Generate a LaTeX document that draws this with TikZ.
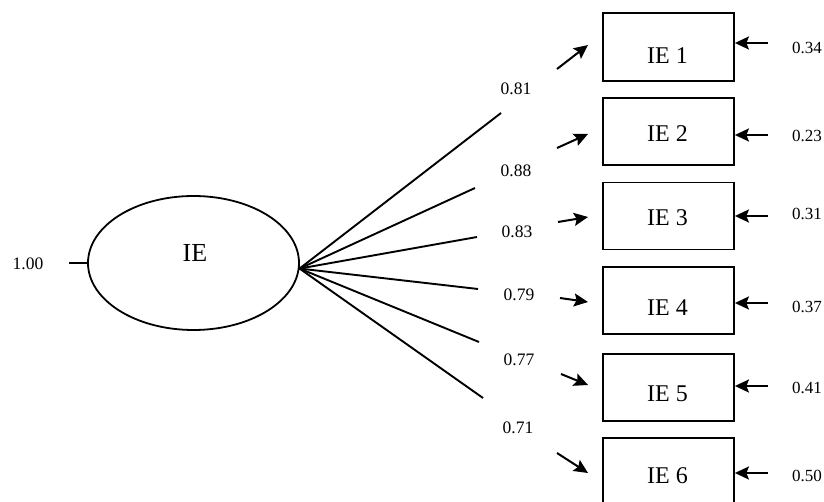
\documentclass[tikz,border=0pt]{standalone}
\usepackage{fontspec}
\setmainfont{Liberation Serif}
\usetikzlibrary{shapes.geometric,arrows.meta}

\begin{document}
\begin{tikzpicture}[x=1pt,y=-1pt,
  line width=1.8pt,
  latent/.style={draw,ellipse,minimum width=211pt,minimum height=134pt,inner sep=0pt},
  indicator/.style={draw,rectangle,minimum width=131pt,minimum height=67pt,inner sep=0pt},
  bigtext/.style={inner sep=0pt,font=\fontsize{26}{30}\selectfont},
  boxtext/.style={inner sep=0pt,font=\fontsize{24}{28}\selectfont},
  loadtext/.style={inner sep=0pt,font=\fontsize{17.5}{20}\selectfont},
  errtext/.style={inner sep=0pt,font=\fontsize{17}{19}\selectfont},
  loading/.style={line width=1.9pt},
  pointer/.style={line width=2pt,-{Stealth[length=14pt,width=13pt,inset=2.5pt]}},
]
\useasboundingbox (0,0) rectangle (824,502);
\clip (0,0) rectangle (824,502);

% latent factor
\node[latent] (ie) at (193.5,263) {};
\node[bigtext] (ielabel) at (195,253) {IE};
\node[loadtext] (var) at (28,264) {1.00};
\coordinate (vartick) at (69,263);
\draw (vartick) -- (ie.west);

% indicator boxes
\node[indicator,minimum height=68pt] (b1) at (668.5,47) {};
\node[indicator] (b2) at (668.5,131.5) {};
\node[indicator] (b3) at (668.5,216) {};
\node[indicator] (b4) at (668.5,300.5) {};
\node[indicator] (b5) at (668.5,387.5) {};
\node[indicator] (b6) at (668.5,471.5) {};

\node[boxtext] (t1) at (667.5,56) {IE 1};
\node[boxtext] (t2) at (667.5,134) {IE 2};
\node[boxtext] (t3) at (667.5,218) {IE 3};
\node[boxtext] (t4) at (667.5,308) {IE 4};
\node[boxtext] (t5) at (667.5,394) {IE 5};
\node[boxtext] (t6) at (667.5,476) {IE 6};

% loading lines fanning out of the factor
\coordinate (apex) at (ie.-3);
\coordinate (l1) at (501,113);
\coordinate (l2) at (475,188);
\coordinate (l3) at (477,237);
\coordinate (l4) at (478,289);
\coordinate (l5) at (479,342);
\coordinate (l6) at (483,398);
\foreach \i in {1,...,6} \draw[loading] (apex) -- (l\i);

% loading values
\node[loadtext] (v1) at (516,89) {0.81};
\node[loadtext] (v2) at (516,171) {0.88};
\node[loadtext] (v3) at (517,232) {0.83};
\node[loadtext] (v4) at (519,295) {0.79};
\node[loadtext] (v5) at (519,360) {0.77};
\node[loadtext] (v6) at (518,428) {0.71};

% short arrows pointing at the boxes
\coordinate (p1s) at (557,69);  \coordinate (p1e) at (588,45);
\coordinate (p2s) at (557,148); \coordinate (p2e) at (588,134);
\coordinate (p3s) at (558,222); \coordinate (p3e) at (588,217);
\coordinate (p4s) at (560,298); \coordinate (p4e) at (588,302);
\coordinate (p5s) at (561,374); \coordinate (p5e) at (588,385);
\coordinate (p6s) at (557,453); \coordinate (p6e) at (588,473);
\foreach \i in {1,...,6} \draw[pointer] (p\i s) -- (p\i e);

% error terms
\coordinate (e1) at (768,43);
\coordinate (e2) at (768,135);
\coordinate (e3) at (768,216);
\coordinate (e4) at (768,303);
\coordinate (e5) at (768,386);
\coordinate (e6) at (768,473);
\foreach \i in {1,...,6} \draw[pointer] (e\i) -- (e\i -| b\i.east);

\node[errtext] (r1) at (807,48) {0.34};
\node[errtext] (r2) at (807,136) {0.23};
\node[errtext] (r3) at (807,214) {0.31};
\node[errtext] (r4) at (807,307) {0.37};
\node[errtext] (r5) at (807,388) {0.41};
\node[errtext] (r6) at (807,476) {0.50};
\end{tikzpicture}
\end{document}
